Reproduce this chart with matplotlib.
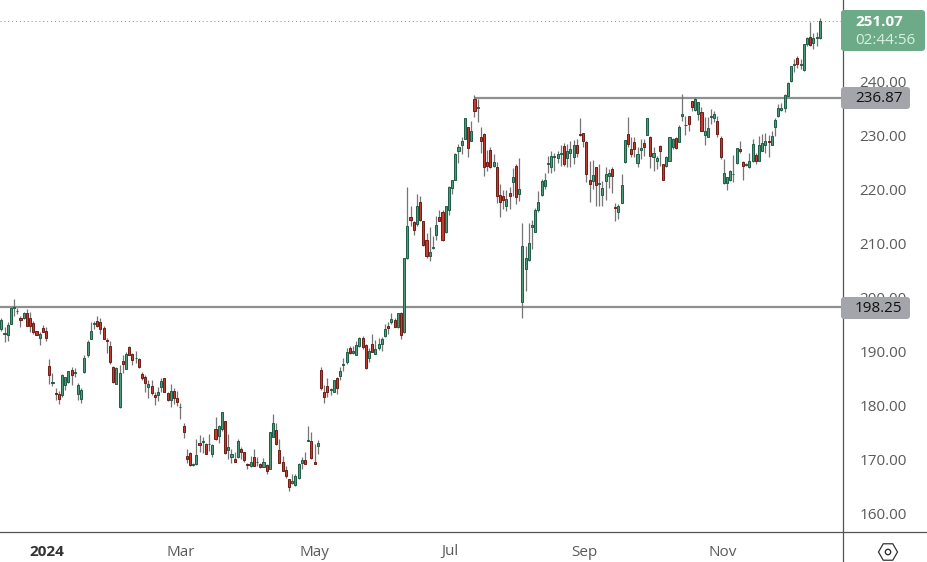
#!/usr/bin/env python3
"""Daily candlestick chart, 2024, with two horizontal levels and the live price badge."""
import numpy as np
import matplotlib
matplotlib.use("Agg")
import matplotlib.pyplot as plt
from matplotlib.lines import Line2D
from matplotlib.patches import FancyBboxPatch, Rectangle, RegularPolygon, Circle
from matplotlib.transforms import Affine2D

opens = [
    194.2, 193.3, 193.1, 195.2, 198.1, 197.5, 196.2, 196.2, 197.1, 196.2,
    195.3, 193.8, 192.6, 194.3, 193.9, 187.3, 184.3, 182.3, 182.1, 182.0,
    183.9, 184.4, 186.7, 186.1, 182.2, 181.2, 186.2, 189.4, 192.4, 195.2,
    195.6, 195.4, 194.3, 192.1, 191.0, 187.1, 184.1, 179.8, 188.2, 186.8,
    190.8, 189.5, 188.8, 188.6, 185.8, 185.4, 183.5, 183.6, 181.9, 182.0,
    183.5, 185.1, 182.3, 181.1, 182.7, 181.4, 179.7, 176.2, 170.8, 171.2,
    169.1, 169.2, 173.1, 173.3, 172.9, 172.9, 171.1, 175.7, 174.5, 175.8,
    177.2, 171.9, 170.6, 170.1, 170.5, 172.0, 171.4, 169.2, 168.9, 170.5,
    169.6, 169.2, 168.7, 169.1, 168.4, 174.3, 175.5, 171.9, 169.7, 168.1,
    166.4, 165.7, 165.4, 166.6, 169.5, 169.9, 173.5, 173.4, 169.7, 172.6,
    186.7, 182.5, 183.6, 183.0, 182.6, 185.1, 185.5, 187.6, 188.0, 190.6,
    189.7, 189.4, 191.1, 192.5, 191.2, 188.8, 191.5, 189.6, 190.7, 191.5,
    192.9, 194.7, 195.5, 195.8, 194.6, 197.1, 193.7, 207.4, 214.8, 213.9,
    213.6, 217.7, 214.1, 210.6, 207.7, 209.2, 211.6, 214.8, 215.9, 212.2,
    216.2, 220.2, 221.8, 227.1, 228.1, 229.3, 231.5, 229.0, 236.7, 235.1,
    229.6, 230.3, 225.0, 227.2, 224.4, 224.1, 219.0, 218.8, 217.0, 219.3,
    221.4, 224.4, 219.2, 199.2, 205.3, 207.0, 213.1, 212.2, 216.1, 219.0,
    220.7, 224.7, 224.1, 226.0, 225.8, 226.6, 228.0, 225.7, 226.8, 226.0,
    228.2, 230.2, 230.4, 228.7, 221.8, 221.6, 224.1, 221.0, 219.0, 221.5,
    222.5, 223.8, 216.7, 215.9, 217.5, 225.0, 230.2, 227.4, 228.7, 224.9,
    227.3, 228.5, 230.1, 229.7, 226.0, 225.3, 228.0, 224.6, 224.4, 225.3,
    227.8, 229.4, 228.8, 233.6, 231.8, 233.5, 236.3, 234.6, 234.0, 234.2,
    230.1, 229.7, 233.4, 233.2, 232.7, 229.4, 221.1, 221.2, 221.8, 222.8,
    224.8, 227.4, 225.1, 224.5, 224.1, 225.2, 226.4, 225.3, 227.0, 228.2,
    229.0, 228.2, 231.6, 233.5, 234.6, 235.0, 237.3, 240.0, 243.0, 244.2,
    243.0, 242.0, 246.8, 248.1, 247.0, 247.9, 248.0,
]
closes = [
    195.8, 193.5, 194.9, 198.1, 198.2, 197.6, 195.9, 197.1, 194.8, 194.8,
    193.7, 193.1, 193.3, 193.7, 192.6, 185.7, 184.4, 182.1, 181.3, 185.7,
    185.3, 186.4, 185.6, 186.2, 183.8, 182.9, 188.8, 191.8, 193.9, 195.3,
    194.7, 194.2, 192.3, 191.9, 188.1, 184.4, 186.9, 186.0, 187.8, 189.5,
    189.4, 188.4, 188.9, 187.2, 185.1, 184.3, 184.0, 182.4, 181.7, 182.5,
    184.5, 182.6, 181.1, 182.7, 181.5, 180.7, 179.8, 175.2, 170.2, 169.1,
    169.2, 170.9, 172.8, 173.4, 171.1, 173.0, 172.7, 173.8, 176.2, 178.8,
    171.3, 172.3, 171.1, 169.7, 173.5, 171.5, 169.9, 169.0, 169.7, 168.9,
    169.7, 168.6, 169.7, 167.9, 175.1, 176.8, 172.9, 169.5, 168.0, 167.1,
    165.0, 166.1, 167.0, 169.2, 169.9, 169.3, 173.6, 170.4, 169.3, 173.1,
    183.3, 181.7, 182.5, 183.1, 184.7, 183.2, 186.4, 187.7, 189.9, 189.8,
    190.1, 191.2, 192.5, 190.9, 186.9, 190.1, 190.0, 190.4, 191.4, 192.3,
    194.1, 194.4, 196.0, 194.6, 197.1, 193.1, 207.3, 213.2, 214.4, 212.5,
    216.9, 214.4, 209.8, 207.6, 208.4, 209.3, 213.4, 214.2, 210.7, 216.9,
    220.4, 221.7, 226.5, 227.9, 228.9, 233.1, 227.7, 230.7, 234.5, 235.2,
    229.0, 224.2, 224.4, 224.1, 225.1, 218.7, 217.6, 218.1, 218.3, 218.8,
    222.2, 218.5, 220.0, 209.5, 207.4, 210.1, 213.4, 216.2, 217.6, 221.5,
    221.8, 224.8, 226.1, 226.1, 226.6, 226.7, 224.6, 227.0, 227.4, 228.1,
    226.7, 230.0, 229.0, 222.9, 220.9, 222.6, 220.8, 221.1, 220.2, 222.8,
    223.0, 222.5, 216.5, 216.9, 220.8, 229.1, 228.3, 226.6, 227.5, 226.5,
    227.6, 227.8, 233.1, 226.2, 226.8, 225.7, 227.0, 221.8, 225.9, 229.6,
    229.3, 227.6, 231.5, 234.0, 231.9, 232.1, 235.2, 236.6, 236.1, 230.8,
    230.8, 231.4, 233.5, 233.9, 230.2, 226.0, 223.0, 222.2, 223.4, 222.9,
    227.6, 227.0, 224.4, 224.6, 225.2, 228.3, 225.2, 228.1, 228.5, 229.0,
    228.7, 229.9, 232.9, 235.1, 235.1, 237.5, 239.7, 242.7, 243.1, 243.1,
    243.1, 246.8, 247.9, 246.7, 248.0, 248.2, 251.07,
]
highs = [
    196.2, 194.5, 195.4, 198.2, 199.7, 198.0, 196.6, 197.3, 197.9, 197.3,
    195.6, 193.9, 193.7, 194.9, 194.5, 188.6, 186.0, 183.2, 182.8, 185.9,
    185.4, 186.5, 187.1, 187.0, 184.3, 183.2, 189.4, 192.1, 195.4, 195.7,
    196.5, 196.2, 194.8, 192.5, 192.0, 187.3, 187.1, 187.5, 189.4, 189.9,
    191.1, 189.7, 190.1, 188.8, 186.3, 185.7, 184.8, 184.8, 182.5, 183.4,
    185.1, 185.1, 182.5, 184.0, 183.3, 182.7, 180.6, 176.9, 172.1, 171.4,
    169.5, 173.9, 174.6, 174.2, 173.1, 174.8, 172.9, 177.9, 176.4, 178.8,
    177.2, 174.8, 172.0, 171.5, 173.9, 172.3, 171.5, 169.5, 170.8, 172.0,
    170.5, 169.4, 170.3, 169.2, 175.2, 178.5, 176.8, 173.9, 170.8, 168.8,
    166.5, 167.4, 167.3, 169.4, 170.6, 171.4, 176.3, 175.1, 172.9, 173.7,
    187.1, 183.8, 185.1, 183.2, 184.8, 185.3, 187.2, 188.9, 190.6, 191.1,
    191.1, 192.0, 192.8, 192.9, 191.4, 190.6, 193.3, 192.2, 192.5, 192.8,
    195.1, 195.4, 197.1, 196.3, 197.1, 197.4, 207.3, 220.4, 217.0, 214.2,
    219.1, 218.7, 214.2, 212.0, 213.0, 211.4, 215.1, 216.1, 216.2, 217.0,
    220.6, 221.8, 226.7, 228.4, 229.6, 233.1, 231.5, 232.7, 237.4, 236.7,
    231.6, 230.5, 227.3, 227.9, 226.5, 225.0, 221.0, 219.8, 219.8, 220.5,
    223.9, 224.7, 225.7, 213.7, 209.6, 213.7, 214.3, 216.5, 219.7, 222.0,
    223.1, 226.2, 227.1, 226.7, 227.1, 228.2, 228.6, 228.4, 229.0, 229.2,
    229.3, 233.2, 230.4, 229.0, 225.3, 225.5, 224.1, 224.7, 221.6, 224.1,
    223.8, 224.2, 217.5, 217.3, 222.8, 229.2, 233.3, 229.6, 229.6, 227.9,
    229.3, 229.3, 233.2, 229.9, 227.8, 226.2, 228.2, 224.7, 226.2, 229.7,
    229.4, 229.6, 231.9, 237.6, 233.6, 233.6, 236.3, 237.0, 236.2, 235.3,
    233.3, 233.3, 234.8, 234.5, 233.6, 229.9, 225.6, 222.2, 223.6, 226.3,
    227.7, 229.0, 225.3, 224.9, 226.8, 229.3, 226.7, 229.9, 230.2, 230.5,
    230.0, 230.8, 233.2, 235.8, 235.9, 237.7, 239.8, 242.8, 244.1, 244.7,
    244.1, 246.9, 248.2, 250.9, 248.9, 249.0, 251.6,
]
lows = [
    193.9, 191.7, 192.0, 195.2, 196.5, 197.0, 194.6, 196.0, 194.8, 193.7,
    193.3, 193.1, 191.2, 193.6, 192.0, 184.0, 183.7, 181.1, 180.3, 181.7,
    182.9, 184.3, 183.8, 185.4, 181.1, 180.5, 186.0, 189.1, 192.3, 194.1,
    194.5, 193.3, 192.3, 189.7, 187.7, 184.3, 184.0, 179.5, 186.0, 186.8,
    189.4, 187.6, 187.9, 187.0, 184.8, 182.6, 181.5, 181.9, 180.2, 180.9,
    182.6, 182.5, 180.9, 179.8, 180.3, 179.9, 177.5, 174.1, 169.5, 168.9,
    168.8, 169.0, 171.4, 171.3, 171.0, 171.7, 170.6, 173.6, 173.1, 175.4,
    171.1, 170.2, 169.5, 169.6, 170.4, 170.2, 169.7, 168.3, 168.6, 168.9,
    168.9, 168.5, 168.6, 167.3, 168.3, 174.2, 172.7, 169.4, 167.9, 166.6,
    164.3, 165.5, 165.2, 166.5, 168.3, 169.2, 173.4, 170.2, 169.2, 171.1,
    182.9, 180.6, 181.6, 181.9, 182.5, 182.2, 184.8, 186.4, 187.7, 189.6,
    189.5, 189.3, 190.8, 190.5, 186.8, 188.1, 190.0, 189.6, 190.3, 190.2,
    192.8, 193.3, 195.1, 194.5, 194.4, 192.3, 193.5, 207.1, 213.3, 211.6,
    213.2, 214.2, 209.6, 207.4, 206.8, 208.9, 210.7, 214.1, 210.4, 212.0,
    215.2, 219.1, 221.8, 224.9, 226.5, 229.3, 226.0, 228.9, 233.3, 232.4,
    226.8, 222.4, 223.3, 224.0, 224.1, 217.5, 214.9, 216.4, 216.0, 216.4,
    218.8, 217.3, 217.9, 196.2, 201.3, 206.8, 209.0, 212.2, 215.9, 218.8,
    220.1, 223.0, 223.1, 223.3, 224.9, 224.4, 224.3, 224.1, 224.2, 224.7,
    225.9, 229.9, 227.8, 221.3, 217.7, 220.1, 217.0, 217.0, 217.0, 218.1,
    220.2, 219.4, 214.1, 214.6, 217.5, 224.9, 227.8, 226.0, 225.9, 224.2,
    225.6, 226.2, 230.0, 223.9, 223.3, 223.8, 224.4, 221.7, 224.2, 225.2,
    227.5, 227.5, 228.7, 232.7, 230.0, 230.8, 234.4, 234.4, 232.9, 230.8,
    228.1, 229.6, 232.1, 232.4, 229.7, 225.6, 221.0, 219.9, 221.6, 221.4,
    224.7, 226.8, 221.7, 224.4, 223.9, 225.1, 224.6, 225.2, 227.0, 226.8,
    226.0, 228.1, 229.9, 233.4, 234.5, 234.2, 237.2, 239.8, 241.6, 242.4,
    242.2, 241.9, 246.4, 246.5, 245.9, 246.5, 247.8,
]

price_ticks = [160, 170, 180, 190, 200, 210, 220, 230, 240]
month_labels = ["2024", "Mar", "May", "Jul", "Sep", "Nov"]
month_bars = [14.3, 56, 98, 140.3, 182.5, 225.7]      # candle index where each label sits
level_high, level_low = 236.87, 198.25
level_high_start = 148                                # the upper level starts at this candle
last_price, countdown = 251.07, "02:44:56"

UP, UP_EDGE = "#4f9a78", "#1f5c45"
DOWN, DOWN_EDGE = "#c23b2e", "#6e1c16"
WICK, LEVEL = "#757575", "#8f8f8f"
INK, AXIS = "#5a5a5a", "#555555"
BADGE_UP, BADGE_GREY = "#6dab88", "#a3a5ab"
W, H = 928, 562

plt.rcParams["font.family"] = ["Open Sans", "DejaVu Sans"]
fig = plt.figure(figsize=(W / 100, H / 100), dpi=100, facecolor="white")
ax = fig.add_axes([0, 1 - 532 / H, 843 / W, 532 / H])

o, h, l, c = map(np.array, (opens, highs, lows, closes))
x = np.arange(len(o))
up = c >= o

ax.vlines(x, l, h, color=WICK, lw=0.9, zorder=2)
ax.bar(x, np.abs(c - o), bottom=np.minimum(o, c), width=0.65,
       color=np.where(up, UP, DOWN), edgecolor=np.where(up, UP_EDGE, DOWN_EDGE),
       linewidth=0.7, zorder=3)

ax.hlines(level_low, -1, 264, color=LEVEL, lw=1.6, zorder=1)
ax.hlines(level_high, level_high_start, 264, color=LEVEL, lw=1.6, zorder=1)
ax.axhline(last_price, color="#8a8a8a", lw=0.7, ls=(0, (1, 3)), zorder=1)

ax.set_xlim(-0.41, 263.27)
ax.set_ylim(160 - 18 * 0.1848, 160 + 514 * 0.1848)

ax.yaxis.tick_right()
ax.set_yticks(price_ticks, [f"{p:.2f}" for p in price_ticks])
ax.set_xticks(month_bars, month_labels)
ax.tick_params(axis="y", length=0, pad=12, labelsize=11, labelcolor=INK)
ax.tick_params(axis="x", length=0, pad=9, labelsize=11, labelcolor=INK)
ax.get_xticklabels()[0].set_fontweight("bold")
ax.get_xticklabels()[0].set_color("#333333")
for s in ("top", "left"):
    ax.spines[s].set_visible(False)
for s in ("right", "bottom"):
    ax.spines[s].set_color(AXIS)
    ax.spines[s].set_linewidth(0.9)

# everything outside the plot area is placed in image pixels, y measured from the top
px = Affine2D().scale(1, -1).translate(0, H)
fig.add_artist(Line2D([843, 843], [532, 562], color=AXIS, lw=0.9, transform=px))
fig.add_artist(Line2D([843, 928], [532, 532], color=AXIS, lw=0.9, transform=px))


def badge(x1, y0, y1, color):
    fig.add_artist(FancyBboxPatch((844, y0 + 3), x1 - 844 - 3, y1 - y0 - 6, boxstyle="round,pad=3",
                                  fc=color, ec="none", transform=px, zorder=5))
    fig.add_artist(Rectangle((844, y0), 8, y1 - y0, fc=color, ec="none", transform=px, zorder=5))


badge(925, 10, 51, BADGE_UP)
badge(910, 87, 109, BADGE_GREY)
badge(910, 297, 319, BADGE_GREY)
fig.text(855, 22, f"{last_price:.2f}", color="white", fontsize=11, fontweight="bold",
         va="center", transform=px, zorder=6)
fig.text(855, 41, countdown, color="#d8efe0", fontsize=11, va="center", transform=px, zorder=6)
fig.text(855, 98, f"{level_high:.2f}", color="#111111", fontsize=11, va="center", transform=px, zorder=6)
fig.text(855, 308, f"{level_low:.2f}", color="#111111", fontsize=11, va="center", transform=px, zorder=6)

# settings hexagon in the bottom right corner
fig.add_artist(RegularPolygon((888, 552), 6, radius=9.5, orientation=np.pi / 6, fc="none",
                              ec="#333333", lw=0.9, transform=px))
fig.add_artist(Circle((888, 552), 2.7, fc="none", ec="#333333", lw=1.0, transform=px))

fig.savefig("out.png", dpi=100, facecolor="white")
